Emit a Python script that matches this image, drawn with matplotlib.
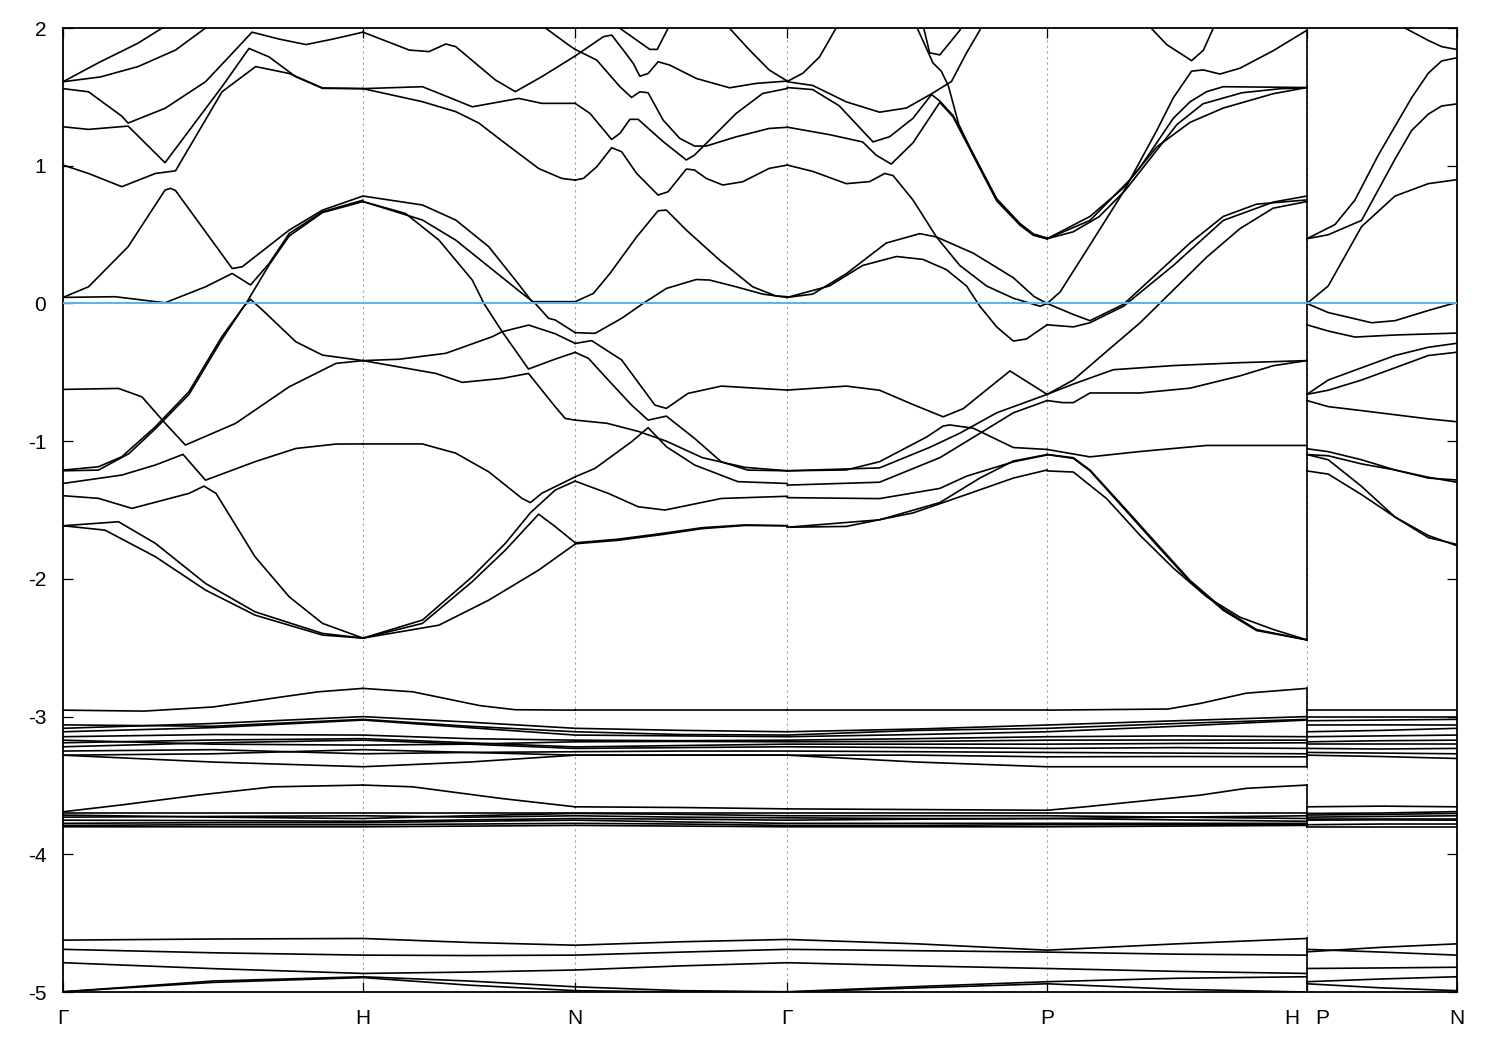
import numpy as np
import matplotlib.pyplot as plt

plt.rcParams['font.family'] = ['Liberation Sans', 'DejaVu Sans']
plt.rcParams['axes.unicode_minus'] = False

# high-symmetry points along the bcc path (distance units)
tick_pos = [0.0, 1.0, 1.7071, 2.4142, 3.2802, 4.1463, 4.6463]
tick_lbl = ['Γ', 'H', 'N', 'Γ', 'P', '', 'N']
break_lbl = ['H', 'P']

# bands: each curve is (t, E) with t the fraction along the segment
gamma_h = [
    [(0, 1.61), (0.12, 1.75), (0.25, 1.89), (0.36, 2.04)],
    [(0, 1.61), (0.125, 1.645), (0.25, 1.72), (0.375, 1.84), (0.5, 2.04)],
    [(0, 1.56), (0.085, 1.537), (0.196, 1.36), (0.217, 1.31), (0.34, 1.417), (0.475, 1.61), (0.553, 1.79),
     (0.63, 1.97), (0.72, 1.92), (0.81, 1.88), (0.9, 1.92), (1, 1.97)],
    [(0, 1.283), (0.085, 1.264), (0.217, 1.288), (0.34, 1.022), (0.53, 1.574), (0.62, 1.852), (0.687, 1.79),
     (0.776, 1.646), (0.865, 1.562), (1, 1.56)],
    [(0, 1.005), (0.085, 0.944), (0.196, 0.848), (0.308, 0.944), (0.375, 0.963), (0.53, 1.537), (0.642, 1.72),
     (0.754, 1.67), (0.865, 1.565), (1, 1.56)],
    [(0, 0.044), (0.085, 0.121), (0.217, 0.412), (0.34, 0.823), (0.358, 0.836), (0.375, 0.82), (0.564, 0.254),
     (0.597, 0.266), (0.754, 0.533), (0.865, 0.678), (1, 0.78)],
    [(0, 0.044), (0.174, 0.049), (0.34, 0.005), (0.475, 0.121), (0.564, 0.218), (0.625, 0.134), (0.687, 0.29),
     (0.754, 0.508), (0.865, 0.666), (1, 0.75)],
    [(0, -1.21), (0.118, -1.186), (0.196, -1.113), (0.308, -0.895), (0.42, -0.64), (0.53, -0.24), (0.61, 0.0),
     (0.687, 0.28), (0.754, 0.49), (0.865, 0.66), (1, 0.74)],
    [(0, -1.215), (0.118, -1.21), (0.22, -1.09), (0.308, -0.91), (0.42, -0.66), (0.53, -0.26), (0.6, -0.03),
     (0.625, 0.03), (0.665, -0.048), (0.776, -0.278), (0.865, -0.375), (1, -0.415)],
    [(0, -0.624), (0.185, -0.617), (0.263, -0.678), (0.341, -0.871), (0.408, -1.028), (0.575, -0.871),
     (0.754, -0.605), (0.91, -0.435), (1, -0.415)],
    [(0, -1.307), (0.196, -1.246), (0.308, -1.173), (0.4, -1.096), (0.475, -1.283), (0.64, -1.149),
     (0.776, -1.053), (0.91, -1.021), (1, -1.02)],
    [(0, -1.396), (0.118, -1.415), (0.23, -1.488), (0.42, -1.379), (0.47, -1.326), (0.51, -1.379),
     (0.64, -1.839), (0.754, -2.13), (0.865, -2.323), (1, -2.43)],
    [(0, -1.614), (0.185, -1.585), (0.308, -1.742), (0.475, -2.033), (0.64, -2.239), (0.865, -2.396), (1, -2.43)],
    [(0, -1.614), (0.14, -1.646), (0.308, -1.839), (0.475, -2.081), (0.64, -2.263), (0.865, -2.408), (1, -2.43)],
    [(0, -2.953), (0.27, -2.96), (0.5, -2.93), (0.72, -2.86), (0.85, -2.82), (1, -2.795)],
    [(0, -3.691), (0.2, -3.64), (0.45, -3.57), (0.7, -3.51), (1, -3.497)],
]

h_n = [
    [(0, 1.97), (0.218, 1.84), (0.311, 1.829), (0.39, 1.884), (0.437, 1.865), (0.624, 1.623), (0.718, 1.538),
     (0.843, 1.647), (1, 1.797)],
    [(0.84, 2.04), (0.86, 2.0), (0.97, 1.876), (1, 1.845)],
    [(0, 1.56), (0.28, 1.574), (0.4, 1.5), (0.515, 1.428), (0.734, 1.489), (0.843, 1.453), (1, 1.453)],
    [(0, 1.56), (0.28, 1.465), (0.437, 1.393), (0.546, 1.31), (0.671, 1.162), (0.828, 0.98), (0.937, 0.908),
     (1, 0.896)],
    [(0, 0.78), (0.28, 0.715), (0.437, 0.606), (0.593, 0.412), (0.718, 0.17), (0.797, 0.013), (1, 0.013)],
    [(0, 0.74), (0.2, 0.654), (0.358, 0.46), (0.515, 0.17), (0.57, 0.0), (0.656, -0.205), (0.75, -0.41),
     (0.78, -0.476), (0.906, -0.404), (1, -0.355)],
    [(0, 0.74), (0.28, 0.606), (0.437, 0.46), (0.593, 0.267), (0.75, 0.073), (0.812, 0.0), (0.875, -0.108),
     (0.906, -0.12), (1, -0.212)],
    [(0, -0.415), (0.17, -0.405), (0.39, -0.362), (0.61, -0.241), (0.656, -0.205), (0.781, -0.157),
     (0.906, -0.22), (1, -0.29)],
    [(0, -0.415), (0.343, -0.508), (0.468, -0.573), (0.656, -0.544), (0.78, -0.508), (0.906, -0.75),
     (0.953, -0.835), (1, -0.847)],
    [(0, -1.02), (0.28, -1.02), (0.437, -1.087), (0.593, -1.223), (0.75, -1.416), (0.789, -1.446),
     (0.843, -1.378), (1, -1.259)],
    [(0, -2.43), (0.28, -2.299), (0.515, -1.984), (0.671, -1.742), (0.789, -1.52), (0.906, -1.355), (1, -1.29)],
    [(0, -2.43), (0.28, -2.323), (0.515, -2.02), (0.671, -1.791), (0.828, -1.53), (0.906, -1.62), (1, -1.738)],
    [(0, -2.43), (0.358, -2.336), (0.593, -2.154), (0.828, -1.936), (1, -1.747)],
    [(0, -2.795), (0.235, -2.82), (0.55, -2.92), (0.717, -2.95), (1, -2.953)],
    [(0, -3.497), (0.235, -3.51), (0.65, -3.594), (1, -3.655)],
]

n_gamma = [
    [(0, 1.797), (0.133, 1.937), (0.172, 1.949), (0.227, 1.84), (0.274, 1.743), (0.305, 1.65), (0.344, 1.67),
     (0.391, 1.755), (0.446, 1.731), (0.571, 1.634), (0.728, 1.566), (0.853, 1.598), (1, 1.615)],
    [(0, 1.845), (0.102, 1.767), (0.211, 1.574), (0.266, 1.496), (0.305, 1.537), (0.344, 1.53), (0.415, 1.331),
     (0.493, 1.199), (0.563, 1.143), (0.618, 1.143), (0.759, 1.21), (0.915, 1.271), (1, 1.279)],
    [(0.19, 2.06), (0.211, 1.998), (0.352, 1.845), (0.387, 1.845), (0.438, 1.998), (0.46, 2.06)],
    [(0.71, 2.04), (0.728, 1.998), (0.822, 1.84), (0.915, 1.695), (1, 1.615)],
    [(0, 1.453), (0.07, 1.38), (0.172, 1.191), (0.211, 1.235), (0.258, 1.337), (0.297, 1.337), (0.415, 1.175),
     (0.524, 1.042), (0.563, 1.078), (0.634, 1.187), (0.759, 1.38), (0.884, 1.525), (1, 1.561)],
    [(0, 0.896), (0.039, 0.908), (0.102, 0.993), (0.172, 1.131), (0.219, 1.102), (0.29, 0.944), (0.391, 0.787),
     (0.438, 0.811), (0.524, 0.976), (0.563, 0.969), (0.618, 0.908), (0.696, 0.86), (0.79, 0.884),
     (0.915, 0.981), (1, 1.005)],
    [(0, 0.013), (0.086, 0.073), (0.164, 0.218), (0.29, 0.484), (0.391, 0.673), (0.43, 0.678), (0.524, 0.533),
     (0.681, 0.315), (0.837, 0.121), (0.947, 0.054), (1, 0.049)],
    [(0, -0.212), (0.094, -0.217), (0.219, -0.108), (0.32, 0.0), (0.43, 0.109), (0.571, 0.174), (0.634, 0.17),
     (0.759, 0.121), (0.884, 0.068), (1, 0.044)],
    [(0, -0.29), (0.078, -0.27), (0.219, -0.41), (0.376, -0.738), (0.43, -0.762), (0.532, -0.653),
     (0.689, -0.6), (1, -0.629)],
    [(0, -0.355), (0.063, -0.399), (0.156, -0.556), (0.266, -0.738), (0.344, -0.847), (0.43, -0.818),
     (0.563, -0.98), (0.689, -1.15), (0.814, -1.21), (1, -1.215)],
    [(0, -0.847), (0.15, -0.87), (0.3, -0.93), (0.43, -1.0), (0.6, -1.12), (0.8, -1.19), (1, -1.215)],
    [(0, -1.259), (0.094, -1.197), (0.266, -1.004), (0.344, -0.902), (0.43, -1.04), (0.563, -1.173),
     (0.767, -1.294), (1, -1.307)],
    [(0, -1.29), (0.156, -1.379), (0.297, -1.476), (0.423, -1.5), (0.689, -1.416), (1, -1.4)],
    [(0, -1.745), (0.2, -1.72), (0.4, -1.68), (0.6, -1.635), (0.8, -1.612), (1, -1.614)],
    [(0, -1.738), (0.2, -1.712), (0.4, -1.672), (0.6, -1.628), (0.8, -1.608), (1, -1.614)],
    [(0, -2.953), (1, -2.953)],
    [(0, -3.655), (0.5, -3.66), (1, -3.67)],
]

gamma_p = [
    [(0, 1.612), (0.06, 1.672), (0.124, 1.79), (0.188, 2.0), (0.2, 2.04)],
    [(0, 1.61), (0.098, 1.583), (0.227, 1.464), (0.355, 1.389), (0.458, 1.419), (0.555, 1.522), (0.632, 1.612),
     (0.69, 1.82), (0.741, 1.984), (0.75, 2.04)],
    [(0, 1.568), (0.098, 1.553), (0.2, 1.435), (0.33, 1.173), (0.394, 1.211), (0.484, 1.345), (0.555, 1.517),
     (0.587, 1.47), (0.638, 1.365), (0.716, 1.085), (0.806, 0.76), (0.896, 0.58), (0.947, 0.505), (1, 0.475)],
    [(0, 1.28), (0.162, 1.226), (0.29, 1.173), (0.342, 1.077), (0.4, 1.012), (0.484, 1.167), (0.587, 1.46),
     (0.638, 1.355), (0.716, 1.072), (0.806, 0.745), (0.896, 0.568), (0.947, 0.495), (1, 0.469)],
    [(0.5, 2.06), (0.525, 2.0), (0.548, 1.82), (0.587, 1.805), (0.664, 1.983), (0.68, 2.06)],
    [(0.49, 2.06), (0.5, 2.0), (0.561, 1.746), (0.593, 1.686), (0.62, 1.58), (0.66, 1.3), (0.716, 1.08),
     (0.806, 0.755), (0.896, 0.575), (0.947, 0.5), (1, 0.47)],
    [(0, 1.005), (0.098, 0.959), (0.227, 0.87), (0.317, 0.885), (0.375, 0.944), (0.407, 0.929), (0.484, 0.751),
     (0.574, 0.483), (0.664, 0.276), (0.767, 0.127), (0.87, 0.038), (0.973, -0.02), (1, 0.0)],
    [(0, 0.044), (0.098, 0.068), (0.227, 0.216), (0.381, 0.439), (0.51, 0.507), (0.574, 0.483), (0.716, 0.365),
     (0.87, 0.187), (0.95, 0.05), (1, 0.0)],
    [(0, 0.044), (0.162, 0.127), (0.29, 0.276), (0.42, 0.341), (0.522, 0.32), (0.612, 0.246), (0.69, 0.127),
     (0.741, -0.02), (0.806, -0.17), (0.87, -0.273), (0.92, -0.258), (1, -0.155)],
    [(0, -0.629), (0.227, -0.6), (0.355, -0.63), (0.484, -0.734), (0.6, -0.823), (0.677, -0.764),
     (0.857, -0.49), (1, -0.66)],
    [(0, -1.215), (0.227, -1.209), (0.355, -1.149), (0.535, -0.971), (0.6, -0.89), (0.625, -0.882),
     (0.716, -0.906), (0.87, -1.046), (1, -1.06)],
    [(0, -1.215), (0.355, -1.194), (0.548, -1.045), (0.664, -0.942), (0.806, -0.794), (0.935, -0.705), (1, -0.66)],
    [(0, -1.319), (0.355, -1.298), (0.587, -1.12), (0.69, -1.002), (0.87, -0.794), (1, -0.705)],
    [(0, -1.41), (0.355, -1.417), (0.587, -1.343), (0.69, -1.254), (0.87, -1.15), (1, -1.1)],
    [(0, -1.625), (0.227, -1.619), (0.484, -1.521), (0.69, -1.387), (0.87, -1.268), (1, -1.209)],
    [(0, -1.625), (0.355, -1.571), (0.587, -1.446), (0.741, -1.268), (0.87, -1.144), (1, -1.097)],
    [(0, -2.953), (1, -2.953)],
    [(0, -3.67), (0.5, -3.675), (1, -3.68)],
]

p_h = [
    [(0.38, 2.06), (0.4, 2.0), (0.46, 1.88), (0.556, 1.763), (0.601, 1.838), (0.64, 2.0), (0.65, 2.06)],
    [(0, 0.47), (0.165, 0.632), (0.294, 0.84), (0.358, 0.989), (0.422, 1.167), (0.486, 1.345), (0.55, 1.464),
     (0.614, 1.538), (0.678, 1.574), (1, 1.568)],
    [(0, 0.47), (0.165, 0.603), (0.319, 0.899), (0.422, 1.137), (0.55, 1.315), (0.678, 1.419), (0.87, 1.523),
     (1, 1.568)],
    [(0, 0.47), (0.1, 0.52), (0.2, 0.63), (0.3, 0.82), (0.4, 1.06), (0.5, 1.3), (0.6, 1.45), (0.75, 1.53),
     (0.9, 1.56), (1, 1.565)],
    [(0, 0.0), (0.05, 0.083), (0.165, 0.425), (0.294, 0.811), (0.422, 1.256), (0.486, 1.494), (0.556, 1.687),
     (0.601, 1.696), (0.665, 1.666), (0.742, 1.708), (0.87, 1.835), (1, 1.984)],
    [(0, 0.0), (0.101, -0.08), (0.165, -0.125), (0.294, -0.006), (0.422, 0.216), (0.55, 0.439), (0.678, 0.632),
     (0.806, 0.721), (1, 0.752)],
    [(0, -0.155), (0.101, -0.17), (0.165, -0.14), (0.294, -0.02), (0.486, 0.276), (0.678, 0.603),
     (0.87, 0.736), (1, 0.78)],
    [(0, -0.66), (0.101, -0.556), (0.229, -0.348), (0.358, -0.14), (0.486, 0.098), (0.614, 0.336),
     (0.742, 0.543), (0.87, 0.692), (1, 0.74)],
    [(0, -0.66), (0.101, -0.585), (0.255, -0.481), (0.486, -0.451), (0.742, -0.43), (1, -0.415)],
    [(0, -0.705), (0.06, -0.72), (0.101, -0.72), (0.165, -0.65), (0.358, -0.65), (0.55, -0.615),
     (0.742, -0.526), (0.87, -0.452), (1, -0.415)],
    [(0, -1.06), (0.165, -1.114), (0.358, -1.075), (0.614, -1.031), (1, -1.031)],
    [(0, -1.097), (0.101, -1.12), (0.165, -1.209), (0.294, -1.476), (0.422, -1.744), (0.55, -2.011),
     (0.678, -2.219), (0.806, -2.368), (1, -2.443)],
    [(0, -1.097), (0.101, -1.125), (0.165, -1.215), (0.294, -1.485), (0.422, -1.755), (0.55, -2.02),
     (0.678, -2.228), (0.806, -2.375), (1, -2.443)],
    [(0, -1.216), (0.101, -1.224), (0.229, -1.417), (0.358, -1.684), (0.486, -1.922), (0.614, -2.13),
     (0.742, -2.278), (0.87, -2.367), (1, -2.443)],
    [(0, -2.953), (0.465, -2.945), (0.59, -2.904), (0.766, -2.83), (1, -2.795)],
    [(0, -3.68), (0.146, -3.655), (0.59, -3.57), (0.766, -3.521), (1, -3.497)],
]

p_n = [
    [(0.63, 2.06), (0.653, 2.0), (0.809, 1.91), (0.898, 1.865), (1, 1.844)],
    [(0, 0.47), (0.187, 0.573), (0.32, 0.751), (0.476, 1.078), (0.587, 1.286), (0.698, 1.494), (0.809, 1.672),
     (0.898, 1.761), (1, 1.784)],
    [(0, 0.47), (0.142, 0.499), (0.364, 0.603), (0.498, 0.87), (0.587, 1.048), (0.698, 1.256), (0.809, 1.375),
     (0.898, 1.434), (1, 1.449)],
    [(0, 0.0), (0.142, 0.127), (0.364, 0.558), (0.587, 0.78), (0.809, 0.87), (1, 0.899)],
    [(0, 0.0), (0.142, -0.066), (0.431, -0.14), (0.587, -0.125), (0.809, -0.051), (1, 0.008)],
    [(0, -0.155), (0.142, -0.2), (0.32, -0.244), (0.587, -0.229), (1, -0.215)],
    [(0, -0.66), (0.142, -0.556), (0.364, -0.467), (0.587, -0.378), (0.809, -0.318), (1, -0.289)],
    [(0, -0.66), (0.142, -0.63), (0.364, -0.556), (0.587, -0.467), (0.809, -0.378), (1, -0.354)],
    [(0, -0.705), (0.142, -0.749), (0.364, -0.778), (0.587, -0.808), (0.809, -0.838), (1, -0.859)],
    [(0, -1.055), (0.142, -1.076), (0.364, -1.135), (0.587, -1.209), (0.809, -1.268), (1, -1.282)],
    [(0, -1.097), (0.142, -1.106), (0.364, -1.165), (0.587, -1.209), (0.809, -1.262), (1, -1.298)],
    [(0, -1.097), (0.142, -1.135), (0.364, -1.328), (0.587, -1.551), (0.809, -1.685), (1, -1.759)],
    [(0, -1.216), (0.142, -1.239), (0.364, -1.388), (0.587, -1.551), (0.809, -1.7), (1, -1.75)],
    [(0, -2.953), (1, -2.953)],
    [(0, -3.655), (0.5, -3.65), (1, -3.655)],
]

# narrow d / semicore bands: values at G, mid, H, mid, N, mid, G, mid, P, mid, H  and  P, mid, N
semicore_main = [
    [-3.085, -3.05, -3.0, -3.04, -3.085, -3.1, -3.11, -3.09, -3.061, -3.03, -3.0],
    [-3.06, -3.07, -3.02, -3.07, -3.11, -3.13, -3.134, -3.1, -3.085, -3.05, -3.02],
    [-3.11, -3.08, -3.025, -3.08, -3.134, -3.14, -3.146, -3.13, -3.11, -3.07, -3.025],
    [-3.146, -3.13, -3.134, -3.16, -3.171, -3.175, -3.171, -3.16, -3.146, -3.14, -3.146],
    [-3.171, -3.2, -3.207, -3.2, -3.183, -3.18, -3.183, -3.18, -3.171, -3.17, -3.171],
    [-3.19, -3.17, -3.16, -3.19, -3.22, -3.21, -3.2, -3.2, -3.2, -3.195, -3.19],
    [-3.219, -3.19, -3.171, -3.2, -3.231, -3.225, -3.219, -3.225, -3.231, -3.225, -3.231],
    [-3.25, -3.24, -3.27, -3.26, -3.255, -3.25, -3.25, -3.255, -3.26, -3.265, -3.27],
    [-3.28, -3.27, -3.24, -3.26, -3.28, -3.28, -3.28, -3.28, -3.292, -3.29, -3.292],
    [-3.28, -3.33, -3.364, -3.33, -3.28, -3.28, -3.28, -3.33, -3.364, -3.364, -3.364],
    [-3.703, -3.703, -3.703, -3.703, -3.703, -3.703, -3.703, -3.703, -3.703, -3.703, -3.703],
    [-3.715, -3.73, -3.74, -3.72, -3.703, -3.71, -3.72, -3.72, -3.72, -3.73, -3.74],
    [-3.73, -3.725, -3.72, -3.73, -3.72, -3.73, -3.735, -3.74, -3.74, -3.73, -3.72],
    [-3.752, -3.755, -3.76, -3.75, -3.74, -3.745, -3.752, -3.745, -3.74, -3.75, -3.76],
    [-3.775, -3.77, -3.77, -3.76, -3.752, -3.765, -3.775, -3.775, -3.775, -3.775, -3.775],
    [-3.79, -3.785, -3.785, -3.78, -3.775, -3.78, -3.79, -3.79, -3.785, -3.785, -3.785],
    [-3.8, -3.8, -3.8, -3.795, -3.79, -3.795, -3.8, -3.8, -3.8, -3.795, -3.79],
    [-4.623, -4.615, -4.611, -4.64, -4.66, -4.635, -4.618, -4.65, -4.696, -4.65, -4.611],
    [-4.69, -4.715, -4.732, -4.735, -4.732, -4.71, -4.69, -4.70, -4.71, -4.725, -4.732],
    [-4.787, -4.83, -4.865, -4.855, -4.84, -4.81, -4.787, -4.81, -4.829, -4.85, -4.865],
    [-4.998, -4.92, -4.889, -4.92, -4.962, -4.99, -4.998, -4.96, -4.925, -4.9, -4.889],
    [-4.998, -4.93, -4.895, -4.95, -4.99, -5.0, -5.0, -4.97, -4.94, -4.98, -5.0],
]
semicore_tail = [
    [-3.0, -3.0, -3.0],
    [-3.03, -3.025, -3.02],
    [-3.061, -3.06, -3.061],
    [-3.11, -3.1, -3.085],
    [-3.146, -3.14, -3.134],
    [-3.2, -3.2, -3.2],
    [-3.183, -3.175, -3.171],
    [-3.26, -3.265, -3.27],
    [-3.231, -3.235, -3.231],
    [-3.28, -3.29, -3.304],
    [-3.703, -3.7, -3.69],
    [-3.715, -3.71, -3.703],
    [-3.73, -3.725, -3.72],
    [-3.74, -3.74, -3.74],
    [-3.752, -3.75, -3.752],
    [-3.785, -3.78, -3.78],
    [-3.8, -3.8, -3.8],
    [-4.708, -4.675, -4.65],
    [-4.69, -4.71, -4.732],
    [-4.829, -4.825, -4.82],
    [-4.925, -4.905, -4.889],
    [-4.94, -4.97, -4.99],
]

segments = [gamma_h, h_n, n_gamma, gamma_p, p_h, p_n]
seg_ends = [(tick_pos[i], tick_pos[i + 1]) for i in range(6)]

fig = plt.figure(figsize=(15, 10.5), dpi=100)
ax = fig.add_axes([0.042, 0.0552, 0.9293, 0.9181])

lw = 1.2
# H | P break: connect the two sides like gnuplot does
h_end, p_start = [], []
for (a, b), curves in zip(seg_ends, segments):
    for c in curves:
        t = np.array([p[0] for p in c])
        e = np.array([p[1] for p in c])
        ax.plot(a + t * (b - a), e, color='black', lw=lw, zorder=2)
        if a == tick_pos[4] and t[-1] == 1:
            h_end.append(e[-1])
        if a == tick_pos[5] and t[0] == 0:
            p_start.append(e[0])

k_main = []
for i in range(5):
    k_main += [tick_pos[i], 0.5 * (tick_pos[i] + tick_pos[i + 1])]
k_main.append(tick_pos[5])
k_tail = [tick_pos[5], 0.5 * (tick_pos[5] + tick_pos[6]), tick_pos[6]]
for m, tl in zip(semicore_main, semicore_tail):
    ax.plot(k_main, m, color='black', lw=lw, zorder=2)
    ax.plot(k_tail, tl, color='black', lw=lw, zorder=2)
    h_end.append(m[-1])
    p_start.append(tl[0])

# vertical joins at the break, one per group of bands
ends = np.array(h_end + p_start)
for lo, hi in [(-2.6, 2.1), (-3.45, -2.7), (-3.9, -3.45), (-5.1, -4.5)]:
    grp = ends[(ends > lo) & (ends < hi)]
    if len(grp):
        ax.plot([tick_pos[5], tick_pos[5]], [grp.min(), min(grp.max(), 2.0)], color='black', lw=lw, zorder=2)

ax.axhline(0, color='#56b4e9', lw=1.4, zorder=3)
for x in tick_pos[1:-1]:
    ax.axvline(x, color='#a0a0a0', lw=0.8, ls=(0, (2, 3)), zorder=1)

ax.set_xlim(tick_pos[0], tick_pos[-1])
ax.set_ylim(-5, 2)
ax.set_xticks(tick_pos)
ax.set_xticklabels(tick_lbl)
ax.set_xticks([tick_pos[5] - 0.05, tick_pos[5] + 0.05], minor=True)
ax.set_xticklabels(break_lbl, minor=True)
ax.set_yticks(range(-5, 3))
ax.tick_params(direction='in', top=True, right=True, length=7, width=0.9, labelsize=15, pad=12)
ax.tick_params(axis='x', which='minor', length=0, labelsize=15, pad=12)
for s in ax.spines.values():
    s.set_linewidth(1.3)

fig.savefig('out.png', dpi=100)
